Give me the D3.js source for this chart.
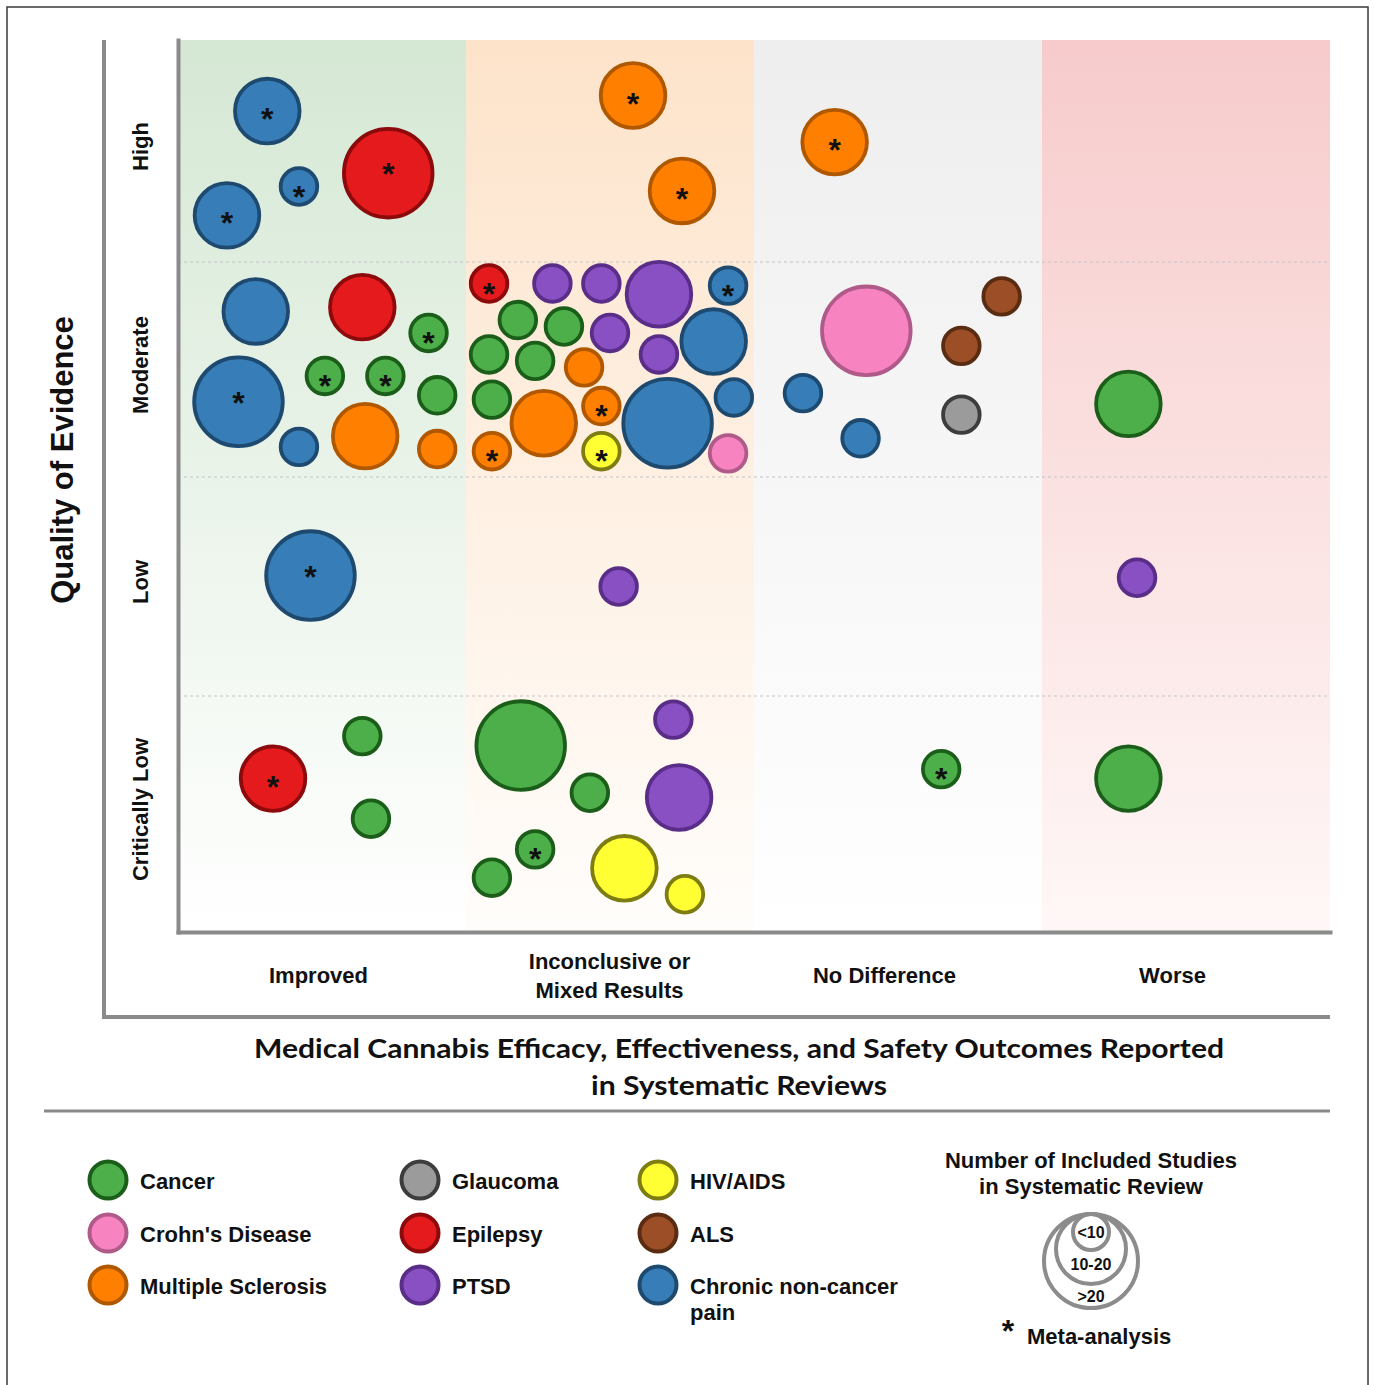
<!DOCTYPE html>
<html>
<head>
<meta charset="utf-8">
<script src="https://cdn.jsdelivr.net/npm/d3@7"></script>
<style>
  body { margin: 0; background: #fff; }
  text { font-family: "Liberation Sans", Arial, sans-serif; font-weight: bold; fill: #111; }
</style>
</head>
<body>
<script>
const w = 1375;
const h = 1385;

// categories
const outcomes = ["Improved", "Inconclusive or\nMixed Results", "No Difference", "Worse"];
const qualities = ["Critically Low", "Low", "Moderate", "High"];
const bgTop = ["#d5e8d4", "#fde3ca", "#eeeeee", "#f7cbcb"];
const bgBottom = ["#ffffff", "#fffdfb", "#ffffff", "#fff7f7"];

const diseaseKeys = ["Cancer", "Crohn", "MS", "Glaucoma", "Epilepsy", "PTSD", "HIV", "ALS", "Pain"];
const diseaseLabels = ["Cancer", "Crohn's Disease", "Multiple Sclerosis", "Glaucoma", "Epilepsy", "PTSD",
                       "HIV/AIDS", "ALS", "Chronic non-cancer\npain"];
const diseaseFills = ["#4daf4a", "#f783c0", "#ff7f00", "#9b9b9b", "#e41a1c", "#8850c2", "#ffff33", "#9c4f26", "#377eb8"];
const diseaseStrokes = ["#1b5e1a", "#b05a8a", "#b05800", "#3d3d3d", "#8c0a0c", "#5a2d88", "#7d7d12", "#5a2c12", "#1e4a70"];

const sizeLabels = ["<10", "10-20", ">20"];

// reviews: [outcome position, quality position, disease, size class, meta-analysis]
const reviews = [
  [0.31, 3.68, "Pain", 1, 1], [0.42, 3.34, "Pain", 0, 1], [0.17, 3.21, "Pain", 1, 1], [0.73, 3.40, "Epilepsy", 2, 1],
  [0.27, 2.77, "Pain", 1, 0], [0.64, 2.79, "Epilepsy", 1, 0], [0.87, 2.67, "Cancer", 0, 1], [0.21, 2.35, "Pain", 2, 1],
  [0.51, 2.47, "Cancer", 0, 1], [0.72, 2.47, "Cancer", 0, 1], [0.90, 2.38, "Cancer", 0, 0], [0.42, 2.14, "Pain", 0, 0],
  [0.65, 2.19, "MS", 1, 0], [0.90, 2.13, "MS", 0, 0],
  [0.46, 1.55, "Pain", 2, 1],
  [0.33, 0.65, "Epilepsy", 1, 1], [0.64, 0.83, "Cancer", 0, 0], [0.67, 0.48, "Cancer", 0, 0],
  [1.58, 3.75, "MS", 1, 1], [1.75, 3.32, "MS", 1, 1],
  [1.08, 2.90, "Epilepsy", 0, 1], [1.30, 2.90, "PTSD", 0, 0], [1.47, 2.90, "PTSD", 0, 0], [1.67, 2.85, "PTSD", 1, 0],
  [1.91, 2.89, "Pain", 0, 1], [1.18, 2.73, "Cancer", 0, 0], [1.34, 2.70, "Cancer", 0, 0], [1.50, 2.67, "PTSD", 0, 0],
  [1.86, 2.63, "Pain", 1, 0], [1.08, 2.57, "Cancer", 0, 0], [1.24, 2.54, "Cancer", 0, 0], [1.41, 2.51, "MS", 0, 0],
  [1.67, 2.57, "PTSD", 0, 0], [1.09, 2.36, "Cancer", 0, 0], [1.27, 2.25, "MS", 1, 0], [1.47, 2.33, "MS", 0, 1],
  [1.70, 2.25, "Pain", 2, 0], [1.93, 2.37, "Pain", 0, 0], [1.09, 2.12, "MS", 0, 1], [1.47, 2.12, "HIV", 0, 1],
  [1.91, 2.11, "Crohn", 0, 0],
  [1.53, 1.50, "PTSD", 0, 0],
  [1.19, 0.79, "Cancer", 2, 0], [1.72, 0.90, "PTSD", 0, 0], [1.43, 0.59, "Cancer", 0, 0], [1.74, 0.57, "PTSD", 1, 0],
  [1.24, 0.35, "Cancer", 0, 1], [1.09, 0.23, "Cancer", 0, 0], [1.55, 0.27, "HIV", 1, 0], [1.76, 0.16, "HIV", 0, 0],
  [2.28, 3.54, "MS", 1, 1],
  [2.39, 2.68, "Crohn", 2, 0], [2.86, 2.84, "ALS", 0, 0], [2.72, 2.61, "ALS", 0, 0], [2.17, 2.39, "Pain", 0, 0],
  [2.37, 2.18, "Pain", 0, 0], [2.72, 2.29, "Glaucoma", 0, 0],
  [2.65, 0.69, "Cancer", 0, 1],
  [3.30, 2.34, "Cancer", 1, 0], [3.33, 1.54, "PTSD", 0, 0], [3.30, 0.65, "Cancer", 1, 0]
];

const svg = d3.select("body")
  .append("svg")
  .attr("width", w)
  .attr("height", h);

// outer frame
svg.append("rect")
  .attr("x", 7).attr("y", 7)
  .attr("width", 1361).attr("height", 1400)
  .attr("fill", "none")
  .attr("stroke", "#3a3a3a")
  .attr("stroke-width", 1.5);

const x = d3.scaleLinear().domain([0, 4]).range([178, 1330]);
const y = d3.scaleLinear().domain([0, 1, 2, 3, 4]).range([932, 696, 477, 262, 40]);
const radius = d3.scaleOrdinal().domain([0, 1, 2]).range([18.3, 32.3, 44.3]);
const fill = d3.scaleOrdinal().domain(diseaseKeys).range(diseaseFills);
const stroke = d3.scaleOrdinal().domain(diseaseKeys).range(diseaseStrokes);

// column backgrounds
const defs = svg.append("defs");
const grad = defs.selectAll("linearGradient")
  .data(outcomes)
  .enter().append("linearGradient")
  .attr("id", (d, i) => "bg" + i)
  .attr("x1", 0).attr("y1", 0).attr("x2", 0).attr("y2", 1);
grad.append("stop").attr("offset", "0%").attr("stop-color", (d, i) => bgTop[i]);
grad.append("stop").attr("offset", "100%").attr("stop-color", (d, i) => bgBottom[i]);

svg.append("g")
  .selectAll("rect")
  .data(outcomes)
  .enter().append("rect")
  .attr("x", (d, i) => x(i))
  .attr("y", y(4))
  .attr("width", (d, i) => x(i + 1) - x(i))
  .attr("height", y(0) - y(4))
  .attr("fill", (d, i) => "url(#bg" + i + ")");

// dashed row separators
svg.append("g")
  .selectAll("line")
  .data([1, 2, 3])
  .enter().append("line")
  .attr("x1", x(0)).attr("x2", x(4))
  .attr("y1", d => y(d)).attr("y2", d => y(d))
  .attr("stroke", "#c4c4c4")
  .attr("stroke-width", 1)
  .attr("stroke-dasharray", "3,3");

// y axis (quality)
const yAxis = svg.append("g")
  .attr("transform", "translate(" + x(0) + ",0)")
  .call(d3.axisLeft(y)
    .tickValues([0.5, 1.5, 2.5, 3.5])
    .tickFormat(d => qualities[Math.floor(d)])
    .tickSize(0).tickSizeOuter(0));
yAxis.selectAll("text")
  .attr("transform", "rotate(-90)")
  .attr("x", 5).attr("y", -30).attr("dy", 0)
  .attr("text-anchor", "middle")
  .style("font-size", "22px")
  .style("font-family", "'Liberation Sans', Arial, sans-serif");

// x axis (outcome), labels sit a little left of the column centres
const labelNudge = [-4, -1, -14, -14];
const xAxis = svg.append("g")
  .attr("transform", "translate(0," + y(0) + ")")
  .call(d3.axisBottom(x)
    .tickValues([0.5, 1.5, 2.5, 3.5])
    .tickFormat(d => outcomes[Math.floor(d)])
    .tickSize(0).tickSizeOuter(0));
xAxis.selectAll("text")
  .attr("y", 0).attr("dy", 0)
  .style("font-size", "22px")
  .style("font-family", "'Liberation Sans', Arial, sans-serif")
  .each(function(d) {
    const k = Math.floor(d);
    const lines = outcomes[k].split("\n");
    const t = d3.select(this).text(null);
    lines.forEach((l, i) => {
      t.append("tspan")
        .attr("x", labelNudge[k])
        .attr("y", 51 + (i - (lines.length - 1) / 2) * 29)
        .text(l);
    });
  });

[yAxis, xAxis].forEach(a => a.select(".domain")
  .attr("stroke", "#8a8a8a")
  .attr("stroke-width", 4)
  .attr("stroke-linecap", "square"));

// outer axis frame
svg.append("path")
  .attr("d", "M104," + y(4) + "V1017H" + x(4))
  .attr("fill", "none")
  .attr("stroke", "#8a8a8a")
  .attr("stroke-width", 4);

svg.append("text")
  .attr("transform", "translate(73,460) rotate(-90)")
  .attr("text-anchor", "middle")
  .style("font-size", "31px")
  .text("Quality of Evidence");

// bubbles
const bubbles = svg.append("g");
bubbles.selectAll("circle")
  .data(reviews)
  .enter().append("circle")
  .attr("cx", d => x(d[0]))
  .attr("cy", d => y(d[1]))
  .attr("r", d => radius(d[3]))
  .attr("fill", d => fill(d[2]))
  .attr("stroke", d => stroke(d[2]))
  .attr("stroke-width", 3.8);

const starShift = [21, 19, 12];
bubbles.selectAll("text")
  .data(reviews.filter(d => d[4] === 1))
  .enter().append("text")
  .attr("x", d => x(d[0]))
  .attr("y", d => y(d[1]) + starShift[d[3]])
  .attr("text-anchor", "middle")
  .style("font-size", "32px")
  .text("*");

// chart title
const title = ["Medical Cannabis Efficacy, Effectiveness, and Safety Outcomes Reported", "in Systematic Reviews"];
const titleWidth = [970, 296];
svg.append("g")
  .selectAll("text")
  .data(title)
  .enter().append("text")
  .attr("x", 739)
  .attr("y", (d, i) => 1058 + i * 37)
  .attr("text-anchor", "middle")
  .attr("textLength", (d, i) => titleWidth[i])
  .attr("lengthAdjust", "spacingAndGlyphs")
  .style("font-family", "Lato, 'Open Sans', sans-serif")
  .style("font-size", "27px")
  .text(d => d);

svg.append("line")
  .attr("x1", 44).attr("x2", 1330)
  .attr("y1", 1111).attr("y2", 1111)
  .attr("stroke", "#8a8a8a")
  .attr("stroke-width", 3);

// disease legend
const legendX = [108, 420, 658];
const legendY = [1180, 1233, 1285];
const legend = svg.append("g")
  .selectAll("g")
  .data(diseaseKeys)
  .enter().append("g")
  .attr("transform", (d, i) => "translate(" + legendX[Math.floor(i / 3)] + "," + legendY[i % 3] + ")");
legend.append("circle")
  .attr("r", 18.5)
  .attr("fill", d => fill(d))
  .attr("stroke", d => stroke(d))
  .attr("stroke-width", 4);
legend.append("text")
  .style("font-size", "22px")
  .each(function(d, i) {
    const t = d3.select(this);
    diseaseLabels[i].split("\n").forEach((l, j) => {
      t.append("tspan").attr("x", 32).attr("y", 9 + j * 26).text(l);
    });
  });

// size legend
const sizeTitle = ["Number of Included Studies", "in Systematic Review"];
svg.append("g")
  .selectAll("text")
  .data(sizeTitle)
  .enter().append("text")
  .attr("x", 1091)
  .attr("y", (d, i) => 1168 + i * 26)
  .attr("text-anchor", "middle")
  .style("font-size", "22px")
  .text(d => d);

const sizeR = [18, 35, 47];
const sizeLegend = svg.append("g");
sizeLegend.selectAll("circle")
  .data(sizeLabels)
  .enter().append("circle")
  .attr("cx", 1091)
  .attr("cy", (d, i) => 1214 + sizeR[i])
  .attr("r", (d, i) => sizeR[i])
  .attr("fill", "none")
  .attr("stroke", "#8c8c8c")
  .attr("stroke-width", 4);
sizeLegend.selectAll("text")
  .data(sizeLabels)
  .enter().append("text")
  .attr("x", 1091)
  .attr("y", (d, i) => 1238 + i * 32)
  .attr("text-anchor", "middle")
  .style("font-size", "16px")
  .text(d => d);

svg.append("text")
  .attr("x", 1008).attr("y", 1342)
  .attr("text-anchor", "middle")
  .style("font-size", "32px")
  .text("*");
svg.append("text")
  .attr("x", 1027).attr("y", 1344)
  .style("font-size", "22px")
  .text("Meta-analysis");
</script>
</body>
</html>
